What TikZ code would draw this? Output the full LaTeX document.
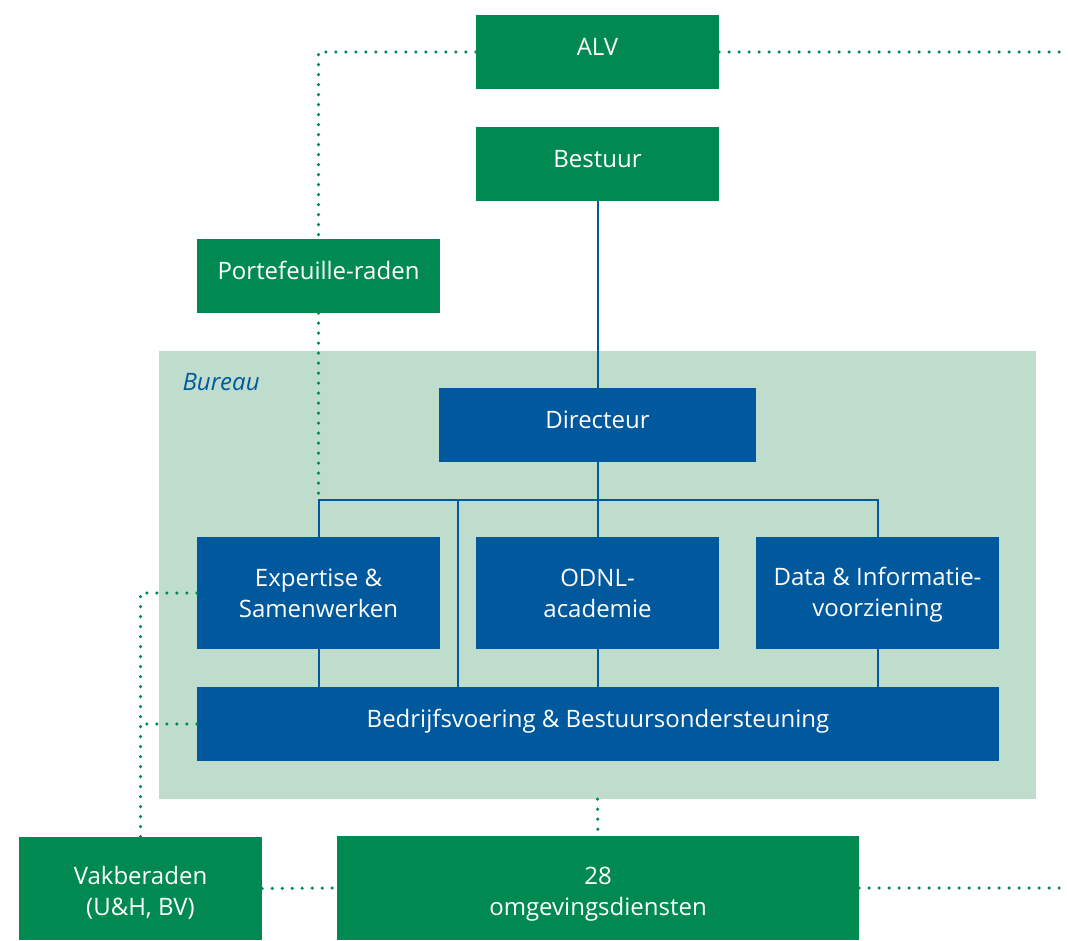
\documentclass[tikz,border=0pt]{standalone}
\usepackage{fontspec}
\setmainfont{Open Sans}
\definecolor{groen}{RGB}{0,138,82}
\definecolor{blauw}{RGB}{0,88,157}
\definecolor{lichtgroen}{RGB}{190,221,204}
\begin{document}
\begin{tikzpicture}[x=1pt,y=-1pt,
  doos/.style={text=white, inner sep=0pt, align=center, minimum width=243pt, minimum height=74pt, font=\fontsize{24}{31}\selectfont},
  een/.style={text depth=11pt},
  groendoos/.style={doos, fill=groen},
  blauwdoos/.style={doos, fill=blauw},
  lijn/.style={blauw, line width=2pt},
  stippel/.style={groen, line width=3.5pt, line cap=round, dash pattern=on 0pt off 10pt}]
\useasboundingbox (0,0) rectangle (1068,940);
% Bureau achtergrond
\node[fill=lichtgroen, minimum width=877pt, minimum height=448pt, inner sep=0pt] (bureau) at (597.5,575) {};
\node[anchor=west, text=blauw, font=\fontsize{24}{24}\selectfont\itshape] (bureaulabel) at (179,382) {Bureau};
% Bestuurslaag
\node[groendoos, een] (alv) at (597.5,52) {ALV};
\node[groendoos, een] (bestuur) at (597.5,164) {Bestuur};
\node[groendoos, een] (pf) at (318.5,276) {Portefeuille-raden};
% Bureau
\node[blauwdoos, een, minimum width=317pt] (dir) at (597.5,425) {Directeur};
\node[blauwdoos, minimum height=112pt] (exp) at (318.5,593) {Expertise \&\\Samenwerken};
\node[blauwdoos, minimum height=112pt] (odnl) at (597.5,593) {ODNL-\\academie};
\node[blauwdoos, minimum height=112pt, text height=52pt] (data) at (877.5,593) {Data \& Informatie-\\voorziening};
\node[blauwdoos, een, minimum width=802pt] (bedr) at (598,724) {Bedrijfsvoering \& Bestuursondersteuning};
% Onderaan
\node[groendoos, minimum height=103pt, text height=57pt] (vak) at (140.5,888.5) {Vakberaden\\(U\&H, BV)};
\node[groendoos, minimum width=522pt, minimum height=104pt, text height=60pt] (od) at (598,888) {28\\omgevingsdiensten};
% Hulppunten
\coordinate (tak) at (597.5,500);
\coordinate (tak2) at (458,500);
\coordinate (pfeind) at (318.5,494);
\coordinate (rechts1) at (1064,52);
\coordinate (rechts2) at (1064,888);
% Lijnen
\draw[lijn] (bestuur.south) -- (dir.north);
\draw[lijn] (dir.south) -- (odnl.north);
\draw[lijn] (exp.north) |- (tak) -| (data.north);
\draw[lijn] (tak2) -- (tak2 |- bedr.north);
\draw[lijn] (exp.south) -- (exp.south |- bedr.north);
\draw[lijn] (odnl.south) -- (odnl.south |- bedr.north);
\draw[lijn] (data.south) -- (data.south |- bedr.north);
% Stippellijnen
\draw[stippel] (alv.west) -| (pf.north);
\draw[stippel] (alv.east) -- (rechts1);
\draw[stippel] (pf.south) -- (pfeind);
\draw[stippel] (exp.west) -| (vak.north);
\draw[stippel] (bedr.west) -- (bedr.west -| vak.north);
\draw[stippel] (vak.east) -- (od.west);
\draw[stippel] (bureau.south) -- (od.north);
\draw[stippel] (od.east) -- (rechts2);
\end{tikzpicture}
\end{document}
